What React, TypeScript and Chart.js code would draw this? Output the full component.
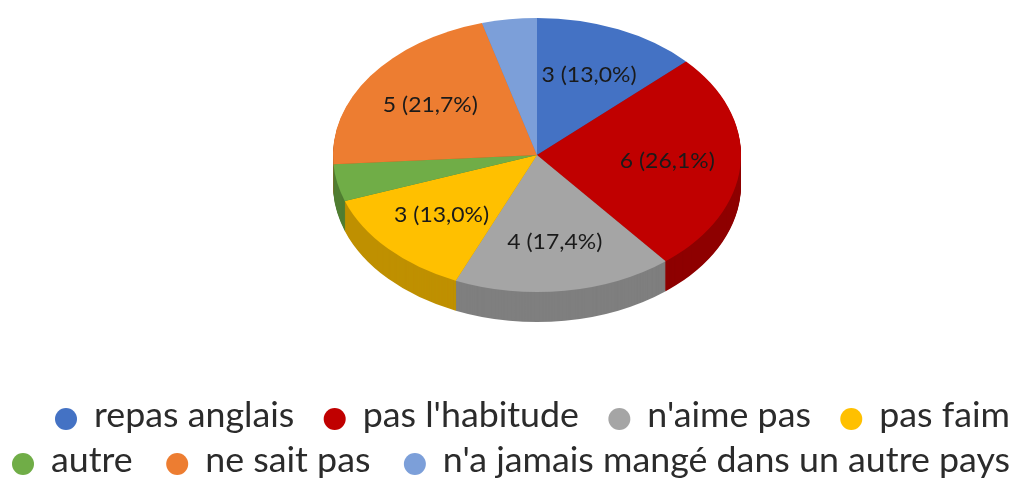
import React, { useEffect, useRef } from 'react';
import { Chart, registerables } from 'chart.js';

Chart.register(...registerables);

// ---- data ----
const categories = [
  'repas anglais',
  "pas l'habitude",
  "n'aime pas",
  'pas faim',
  'autre',
  'ne sait pas',
  "n'a jamais mangé dans un autre pays",
];
const counts = [3, 6, 4, 3, 1, 5, 1];
const showValueLabel = [true, true, true, true, false, true, false];
const legendRows = [
  [0, 1, 2, 3],
  [4, 5, 6],
];

// ---- styles ----
const topColors = ['#4472C4', '#C00000', '#A5A5A5', '#FFC000', '#70AD47', '#ED7D31', '#7C9FD9'];
const sideColors = ['#2F5597', '#8E0000', '#7F7F7F', '#BF9000', '#507E32', '#B55D20', '#5C7FBD'];

const FONT = 'Lato, "Noto Sans", sans-serif';
const TOP_CY = 155; // screen centre of the top face
const SQUASH = 137 / 204; // ellipse ry / rx
const DEPTH = 30;
const LABEL_R = 0.64;
const LABEL_SIZE = 22;
const LEGEND_SIZE = 35;
const LEGEND_ROW_SPAN = [
  [55, 1010],
  [12, 1010],
];
const LEGEND_ROW_BASE = [427, 472];
const LEGEND_DOT_R = 11;
const LEGEND_DOT_GAP = 17;
const LEGEND_ITEM_GAP = 31;

const total = counts.reduce((a, b) => a + b, 0);
const valueLabel = (v: number) => `${v} (${((v / total) * 100).toFixed(1).replace('.', ',')}%)`;

const clamp = (v: number, lo: number, hi: number) => Math.max(lo, Math.min(hi, v));

function drawText(ctx: CanvasRenderingContext2D, text: string, x: number, y: number, sx: number) {
  ctx.save();
  ctx.translate(x, y);
  ctx.scale(sx, 1);
  ctx.fillText(text, 0, 0);
  ctx.restore();
}

const pie3d = {
  id: 'pie3d',
  beforeDatasetsDraw(chart: any) {
    const ctx: CanvasRenderingContext2D = chart.ctx;
    const meta = chart.getDatasetMeta(0);
    const arcs = meta.data;
    const withSquash = (cyCircle: number, dy: number, fn: () => void) => {
      ctx.save();
      ctx.translate(0, TOP_CY + dy);
      ctx.scale(1, SQUASH);
      ctx.translate(0, -cyCircle);
      fn();
      ctx.restore();
    };
    const wedge = (a: any, color: string) => {
      ctx.beginPath();
      ctx.moveTo(a.x, a.y);
      ctx.arc(a.x, a.y, a.outerRadius, a.startAngle, a.endAngle);
      ctx.closePath();
      ctx.fillStyle = color;
      ctx.fill();
    };
    // side walls
    for (let d = DEPTH; d >= 1; d--) {
      arcs.forEach((a: any, i: number) => {
        withSquash(a.y, d, () => wedge(a, sideColors[i]));
      });
    }
    // top faces
    arcs.forEach((a: any, i: number) => {
      withSquash(a.y, 0, () => wedge(a, topColors[i]));
    });
    return false;
  },
  afterDraw(chart: any) {
    const ctx: CanvasRenderingContext2D = chart.ctx;
    const meta = chart.getDatasetMeta(0);

    // value labels on the slices
    ctx.save();
    ctx.font = `${LABEL_SIZE}px ${FONT}`;
    const lsx = clamp(95 / ctx.measureText('3 (13,0%)').width, 0.85, 1.15);
    ctx.fillStyle = '#1a1a1a';
    ctx.textAlign = 'center';
    ctx.textBaseline = 'middle';
    meta.data.forEach((a: any, i: number) => {
      if (!showValueLabel[i]) return;
      const mid = (a.startAngle + a.endAngle) / 2;
      const r = a.outerRadius * LABEL_R;
      const x = a.x + Math.cos(mid) * r;
      const y = TOP_CY + Math.sin(mid) * r * SQUASH;
      drawText(ctx, valueLabel(counts[i]), x, y, lsx);
    });
    ctx.restore();

    // legend
    ctx.save();
    ctx.font = `${LEGEND_SIZE}px ${FONT}`;
    ctx.textBaseline = 'alphabetic';
    ctx.textAlign = 'left';
    const natural = categories.map((c) => ctx.measureText(c).width);
    let avail = 0;
    let measured = 0;
    legendRows.forEach((row, ri) => {
      const [x0, x1] = LEGEND_ROW_SPAN[ri];
      avail += x1 - x0 - (row.length - 1) * LEGEND_ITEM_GAP - row.length * (LEGEND_DOT_R * 2 + LEGEND_DOT_GAP);
      row.forEach((i) => (measured += natural[i]));
    });
    const sx = clamp(avail / measured, 0.85, 1.15);
    legendRows.forEach((row, ri) => {
      const widths = row.map((i) => natural[i] * sx);
      const itemsW = widths.reduce((s, w) => s + w + LEGEND_DOT_R * 2 + LEGEND_DOT_GAP, 0);
      const [x0, x1] = LEGEND_ROW_SPAN[ri];
      const gap = (x1 - x0 - itemsW) / (row.length - 1);
      let x = x0;
      const base = LEGEND_ROW_BASE[ri];
      row.forEach((i, k) => {
        ctx.beginPath();
        ctx.arc(x + LEGEND_DOT_R, base - 8, LEGEND_DOT_R, 0, Math.PI * 2);
        ctx.fillStyle = topColors[i];
        ctx.fill();
        x += LEGEND_DOT_R * 2 + LEGEND_DOT_GAP;
        ctx.fillStyle = '#2b2b2b';
        drawText(ctx, categories[i], x, base, sx);
        x += widths[k] + gap;
      });
    });
    ctx.restore();
  },
};

export default function App() {
  const ref = useRef<HTMLCanvasElement | null>(null);
  useEffect(() => {
    if (!ref.current) return;
    const chart = new Chart(ref.current, {
      type: 'pie',
      data: {
        labels: categories,
        datasets: [
          {
            data: counts,
            backgroundColor: topColors,
            borderWidth: 0,
            hoverOffset: 0,
          },
        ],
      },
      options: {
        responsive: true,
        maintainAspectRatio: false,
        animation: false,
        events: [],
        layout: { padding: { left: 333, right: 282, top: 0, bottom: 72 } },
        plugins: {
          legend: { display: false },
          tooltip: { enabled: false },
        },
      },
      plugins: [pie3d],
    });
    let alive = true;
    if ((document as any).fonts && (document as any).fonts.load) {
      (document as any).fonts.load(`30px Lato`).then(() => {
        if (alive) chart.draw();
      });
    }
    return () => {
      alive = false;
      chart.destroy();
    };
  }, []);
  return (
    <div style={{ position: 'fixed', left: 0, top: 0, width: 1023, height: 480, background: '#fff' }}>
      <canvas ref={ref} />
    </div>
  );
}
